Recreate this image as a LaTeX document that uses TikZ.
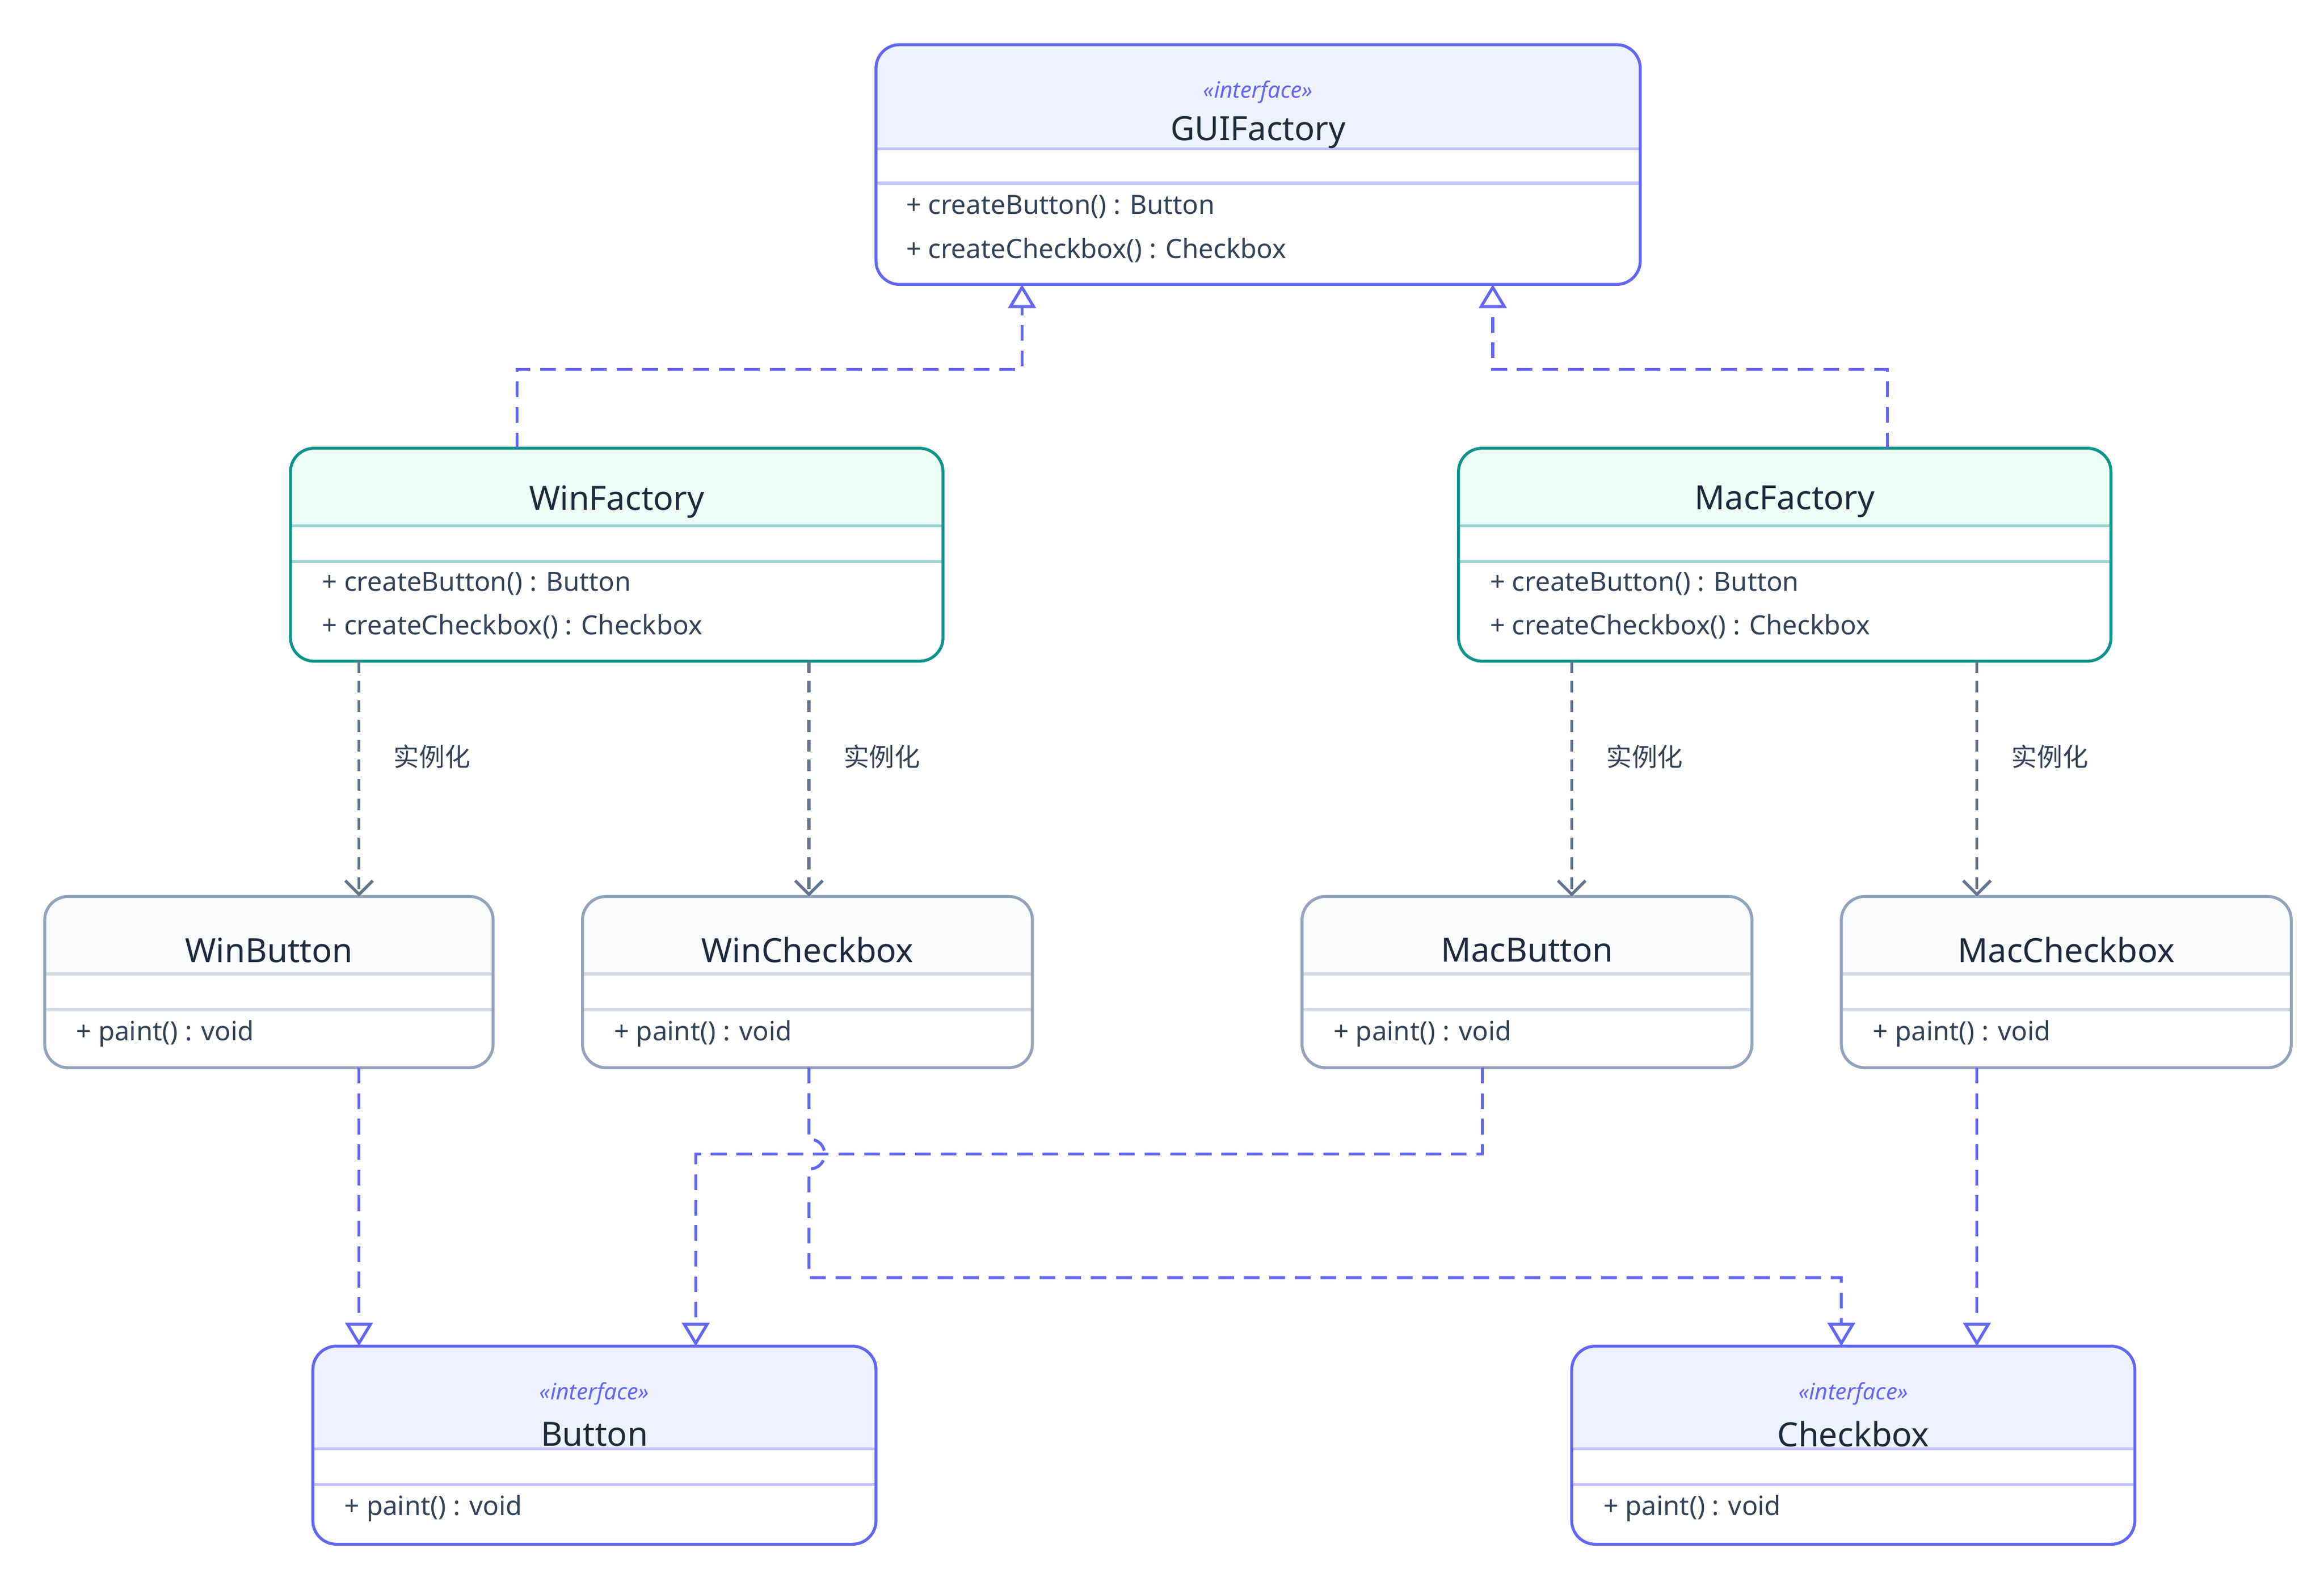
\documentclass[tikz,border=0pt]{standalone}
\usepackage{fontspec}
\setmainfont{Noto Sans}
\newfontfamily\cjk{Noto Sans CJK SC}
\usetikzlibrary{arrows.meta}
\definecolor{ifb}{HTML}{6366F1}\definecolor{iff}{HTML}{EEF2FF}\definecolor{ifl}{HTML}{C7D2FE}
\definecolor{fcb}{HTML}{0D9488}\definecolor{fcf}{HTML}{ECFDF5}\definecolor{fcl}{HTML}{99F6E4}
\definecolor{prb}{HTML}{94A3B8}\definecolor{prf}{HTML}{F8FAFC}\definecolor{prl}{HTML}{E2E8F0}
\definecolor{txt}{HTML}{1E293B}\definecolor{mtxt}{HTML}{334155}\definecolor{dep}{HTML}{64748B}
\tikzset{
 realize/.style={draw=ifb,line width=1.5pt,dash pattern=on 8pt off 5pt,-{Triangle[open,length=12pt,width=14pt]}},
 depend/.style={draw=dep,line width=1.5pt,dash pattern=on 6pt off 4pt,-{Straight Barb[length=7pt,width=14pt]}},
 ttl/.style={font=\fontsize{17}{20}\selectfont\bfseries,text=txt},
 mth/.style={font=\fontsize{13.5}{16}\selectfont,text=mtxt,anchor=west,inner sep=0},
 ster/.style={font=\fontsize{11.5}{14}\selectfont\itshape,text=ifb},
 lbl/.style={font=\cjk\fontsize{13}{16}\selectfont,text=mtxt}
}
% name x1 y1 x2 y2 yh yl border fill
\newcommand\umlbox[9]{%
 \begin{scope}
 \clip[rounded corners=12pt] (#2,#3) rectangle (#4,#5);
 \fill[white] (#2,#3) rectangle (#4,#5);
 \fill[#9] (#2,#3) rectangle (#4,#6);
 \end{scope}
 \draw[#8!40!white,line width=1.5pt] (#2,#6) -- (#4,#6) (#2,#7) -- (#4,#7);
 \draw[#8,line width=1.5pt,rounded corners=12pt] (#2,#3) rectangle (#4,#5);
 \coordinate (#1) at ({(#2+#4)/2},{(#3+#5)/2});
}
\begin{document}
\begin{tikzpicture}[x=0.026667cm,y=-0.026667cm]
\useasboundingbox[fill=white] (0,0) rectangle (1560,1062);
\umlbox{gui}{588}{30}{1101}{191}{100}{123}{ifb}{iff}
\node[ster] at (844.5,62) {«interface»};
\node[ttl] (guit) at (844.5,89) {GUIFactory};
\node[mth] at (608,139) {+ createButton() : Button};
\node[mth] at (608,168) {+ createCheckbox() : Checkbox};
\coordinate (guiA) at (686,191); \coordinate (guiB) at (1002,191);

\umlbox{wf}{195}{301}{633}{444}{353}{377}{fcb}{fcf}
\node[ttl] at (414,337) {WinFactory};
\node[mth] at (216,392) {+ createButton() : Button};
\node[mth] at (216,421) {+ createCheckbox() : Checkbox};
\umlbox{mf}{979}{301}{1417}{444}{353}{377}{fcb}{fcf}
\node[ttl] at (1198,337) {MacFactory};
\node[mth] at (1000,392) {+ createButton() : Button};
\node[mth] at (1000,421) {+ createCheckbox() : Checkbox};

\umlbox{wb}{30}{602}{331}{717}{654}{678}{prb}{prf}
\node[ttl] at (180.5,638) {WinButton};
\node[mth] at (51,694) {+ paint() : void};
\umlbox{wc}{391}{602}{693}{717}{654}{678}{prb}{prf}
\node[ttl] at (542,638) {WinCheckbox};
\node[mth] at (412,694) {+ paint() : void};
\umlbox{mb}{874}{602}{1176}{717}{654}{678}{prb}{prf}
\node[ttl] at (1025,638) {MacButton};
\node[mth] at (895,694) {+ paint() : void};
\umlbox{mc}{1236}{602}{1538}{717}{654}{678}{prb}{prf}
\node[ttl] at (1387,638) {MacCheckbox};
\node[mth] at (1257,694) {+ paint() : void};

\umlbox{bt}{210}{904}{588}{1037}{973}{997}{ifb}{iff}
\node[ster] at (399,936) {«interface»};
\node[ttl] at (399,963) {Button};
\node[mth] at (231,1013) {+ paint() : void};
\umlbox{cb}{1055}{904}{1433}{1037}{973}{997}{ifb}{iff}
\node[ster] at (1244,936) {«interface»};
\node[ttl] at (1244,963) {Checkbox};
\node[mth] at (1076,1013) {+ paint() : void};

\draw[realize] (347,301) -- (347,248) -- (686,248) -- (guiA);
\draw[realize] (1267,301) -- (1267,248) -- (1002,248) -- (guiB);
\draw[depend] (241,444) -- (241,602); \node[lbl] at (290,508) {实例化};
\draw[depend] (543,444) -- (543,602); \node[lbl] at (592,508) {实例化};
\draw[depend] (1055,444) -- (1055,602); \node[lbl] at (1104,508) {实例化};
\draw[depend] (1327,444) -- (1327,602); \node[lbl] at (1376,508) {实例化};
\draw[realize] (241,717) -- (241,904);
\draw[realize] (995,717) -- (995,775) -- (467,775) -- (467,904);
\draw[realize] (543,717) -- (543,765) .. controls (557,765) and (557,785) .. (543,785) -- (543,858) -- (1236,858) -- (1236,904);
\draw[realize] (1327,717) -- (1327,904);
\end{tikzpicture}
\end{document}
